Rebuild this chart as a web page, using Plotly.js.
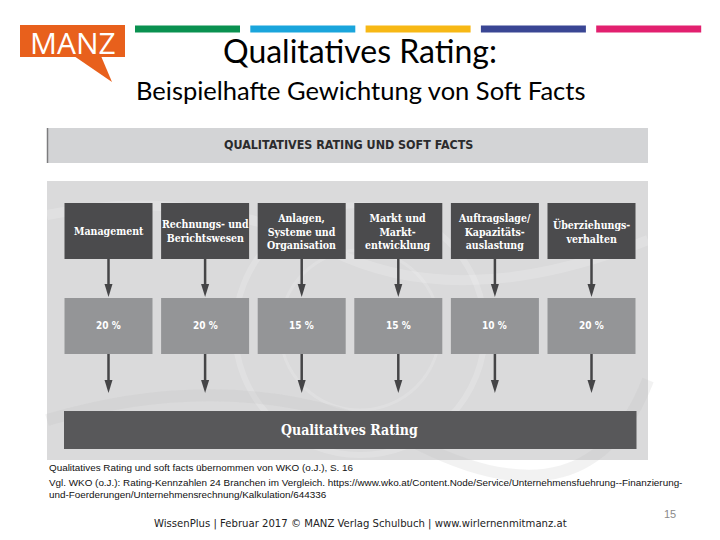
<!DOCTYPE html>
<html>
<head>
<meta charset="utf-8">
<script src="https://cdn.plot.ly/plotly-3.0.1.min.js"></script>
<style>html,body{margin:0;padding:0;background:#fff;}#chart{width:720px;height:540px;}</style>
</head>
<body>
<div id="chart"></div>
<script>
// ---- data ----
const categories = [
  "Management",
  "Rechnungs- und<br>Berichtswesen",
  "Anlagen,<br>Systeme und<br>Organisation",
  "Markt und<br>Markt-<br>entwicklung",
  "Auftragslage/<br>Kapazitäts-<br>auslastung",
  "Überziehungs-<br>verhalten"
];
const weights = [20, 20, 15, 15, 10, 20];
const weightLabels = weights.map(w => w + " %");
const slideTitle = "Qualitatives Rating:";
const slideSubtitle = "Beispielhafte Gewichtung von Soft Facts";
const headerText = "QUALITATIVES RATING UND SOFT FACTS";
const resultText = "Qualitatives Rating";
const footnotes = [
  "Qualitatives Rating und soft facts übernommen von WKO (o.J.), S. 16",
  "Vgl. WKO (o.J.): Rating-Kennzahlen 24 Branchen im Vergleich. https://www.wko.at/Content.Node/Service/Unternehmensfuehrung--Finanzierung-",
  "und-Foerderungen/Unternehmensrechnung/Kalkulation/644336"
];
const footerText = "WissenPlus | Februar 2017 © MANZ Verlag Schulbuch | www.wirlernenmitmanz.at";
const pageNumber = "15";
const logoText = "MANZ";
const stripeColors = ["#0a9150", "#1aa5dc", "#f7b815", "#3a4694", "#e2206f"];

// ---- layout geometry ----
const boxX0 = 64.5, boxPitch = 96.6, boxW = 88;
const topY0 = 203, topY1 = 259;
const pctY0 = 298, pctY1 = 354;
const resY0 = 411, resY1 = 449;

const shapes = [];
const annotations = [];

function rect(x0, y0, x1, y1, fill, extra) {
  shapes.push(Object.assign({type: "rect", xref: "x", yref: "y", x0, y0, x1, y1,
    fillcolor: fill, line: {width: 0}, layer: "above"}, extra || {}));
}
function text(x, y, t, font, extra) {
  annotations.push(Object.assign({xref: "x", yref: "y", x, y, text: t, showarrow: false,
    font: font, xanchor: "center", yanchor: "middle"}, extra || {}));
}
function arrow(x, y0, y1) {
  shapes.push({type: "line", xref: "x", yref: "y", x0: x, x1: x, y0: y0, y1: y1 - 8,
    line: {color: "#454547", width: 2.5}, layer: "above"});
  shapes.push({type: "path", xref: "x", yref: "y",
    path: `M ${x - 4} ${y1 - 13} L ${x + 4} ${y1 - 13} L ${x} ${y1} Z`,
    fillcolor: "#454547", line: {width: 0}, layer: "above"});
}

// logo
rect(20, 25, 125, 57, "#e8601c");
shapes.push({type: "path", xref: "x", yref: "y", path: "M 74 56 L 112 82 L 101 56 Z",
  fillcolor: "#e8601c", line: {width: 0}, layer: "above"});
text(72.5, 42, logoText, {family: "Open Sans", size: 30, color: "#ffffff"});

// stripes
stripeColors.forEach((c, i) => {
  const x0 = 135 + i * 115.3;
  rect(x0, 25.5, x0 + 105, 32.5, c);
});

// titles
text(360, 50, slideTitle, {family: "Lato", size: 32, color: "#000000"});
text(360, 90, slideSubtitle, {family: "Lato", size: 25.5, color: "#000000"});

// header band
rect(47, 128, 648, 163, "#d3d4d6");
shapes.push({type: "line", xref: "x", yref: "y", x0: 47.5, x1: 47.5, y0: 128, y1: 163,
  line: {color: "#7c7c7e", width: 1.5}, layer: "above"});
text(348, 144, "<b>" + headerText + "</b>", {family: "DejaVu Sans Condensed", size: 12.4, color: "#2b2b2d"});

// diagram background
rect(47, 181, 648, 460, "#dadadb");
// faint background swirls
const swirl = {type: "circle", xref: "x", yref: "y", line: {color: "rgba(255,255,255,0.18)", width: 6}, layer: "above"};
shapes.push(Object.assign({}, swirl, {x0: 235, x1: 485, y0: 205, y1: 455}));
shapes.push(Object.assign({}, swirl, {x0: 280, x1: 440, y0: 250, y1: 410, line: {color: "rgba(255,255,255,0.15)", width: 3}}));
shapes.push({type: "path", xref: "x", yref: "y", path: "M 47 215 Q 200 185 330 250 T 648 240",
  line: {color: "rgba(255,255,255,0.18)", width: 10}, layer: "above"});
shapes.push({type: "path", xref: "x", yref: "y", path: "M 47 420 Q 250 360 420 445 T 648 380",
  line: {color: "rgba(190,190,190,0.2)", width: 12}, layer: "above"});

// boxes, arrows, labels from data
categories.forEach((cat, i) => {
  const x0 = boxX0 + i * boxPitch, x1 = x0 + boxW, xc = (x0 + x1) / 2;
  rect(x0, topY0, x1, topY1, "#4b4b4d");
  text(xc, (topY0 + topY1) / 2, "<b>" + cat + "</b>",
    {family: "DejaVu Serif Condensed", size: 10.5, color: "#ffffff"});
  arrow(xc, topY1, pctY0 - 1);
  rect(x0, pctY0, x1, pctY1, "#949597");
  text(xc, (pctY0 + pctY1) / 2 - 1, "<b>" + weightLabels[i] + "</b>",
    {family: "DejaVu Sans Condensed", size: 10, color: "#ffffff"});
  arrow(xc, pctY1, resY0 - 18);
});

rect(64, resY0, 636.5, resY1, "#58585a");
text(349, (resY0 + resY1) / 2, "<b>" + resultText + "</b>",
  {family: "DejaVu Serif Condensed", size: 14, color: "#ffffff"});

// footnotes
footnotes.forEach((f, i) => {
  text(47, [467, 482, 494][i], f, {family: "Liberation Sans", size: 9.9, color: "#111111"}, {xanchor: "left"});
});
text(360, 524, footerText, {family: "DejaVu Sans", size: 10.1, color: "#222222"});
text(670, 514, pageNumber, {family: "Liberation Sans", size: 11, color: "#8a8a8a"});

const layout = {
  width: 720, height: 540,
  margin: {l: 0, r: 0, t: 0, b: 0},
  paper_bgcolor: "#ffffff", plot_bgcolor: "#ffffff",
  xaxis: {range: [0, 720], visible: false, fixedrange: true},
  yaxis: {range: [540, 0], visible: false, fixedrange: true},
  shapes, annotations, showlegend: false
};

Plotly.newPlot("chart", [{x: [], y: [], type: "scatter", hoverinfo: "skip"}], layout,
  {displayModeBar: false, staticPlot: true});
</script>
</body>
</html>
